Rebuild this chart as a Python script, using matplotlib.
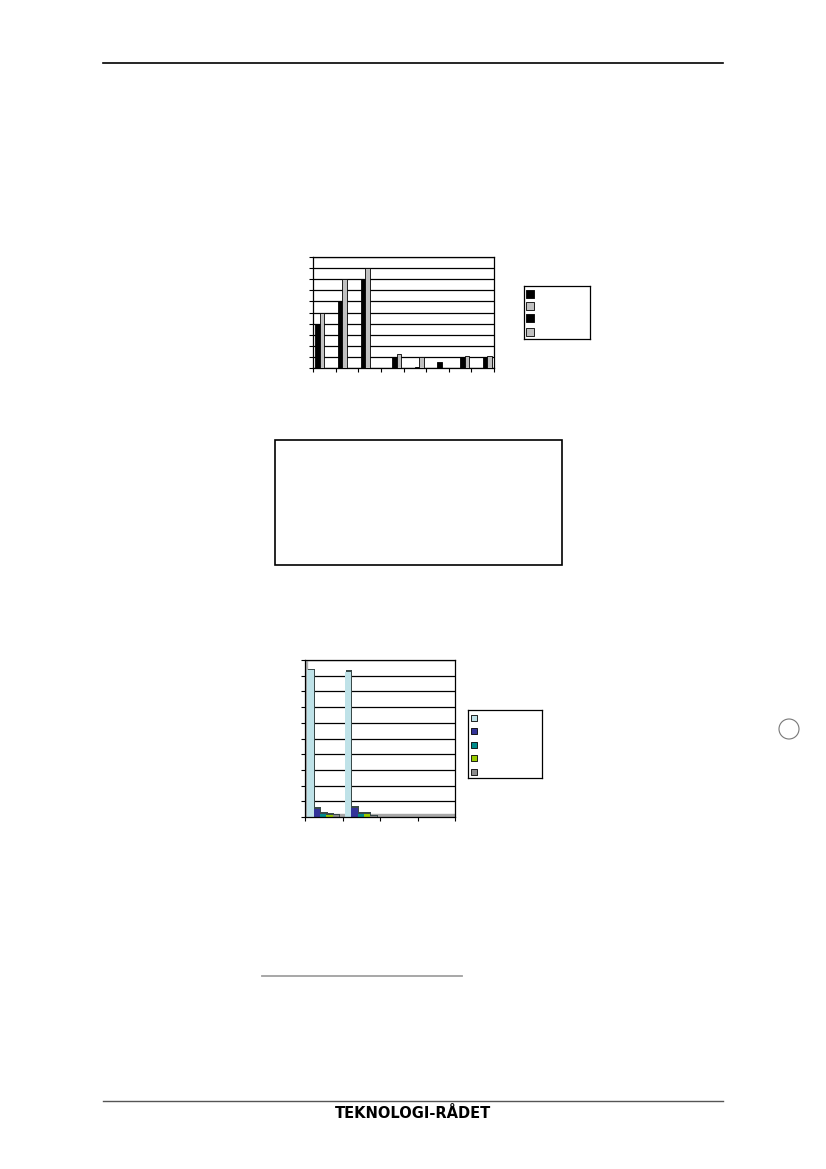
import matplotlib
matplotlib.use('Agg')
import matplotlib.pyplot as plt
import numpy as np

W, H = 826, 1169

# chart 1: 8 categories, 4 series (values in gridline units)
cats1 = ['', '', '', '', '', '', '', '']
ser1_a = [4.0, 6.0, 8.0, 0, 0, 0, 0, 0]
ser1_b = [5.0, 8.0, 9.0, 0, 0, 0, 0, 0]
ser1_c = [0, 0, 0, 1.0, 0.1, 0.5, 1.0, 1.0]
ser1_d = [0, 0, 0, 1.3, 1.0, 0, 1.05, 1.05]
colors1 = ['#000000', '#c0c0c0', '#000000', '#c0c0c0']

# chart 2: 4 categories, 5 series
cats2 = ['', '', '', '']
ser2_a = [9.34, 9.24, 0, 0]
ser2_b = [0.51, 0.57, 0, 0]
ser2_c = [0.2, 0.2, 0, 0]
ser2_d = [0.15, 0.2, 0, 0]
ser2_e = [0.1, 0.05, 0, 0]
colors2 = ['#bfe2e8', '#333399', '#008b8b', '#99cc00', '#8c8c8c']

footer = 'TEKNOLOGI-RÅDET'


def box(l, t, r, b):
    return [l / W, 1 - b / H, (r - l) / W, (b - t) / H]


fig = plt.figure(figsize=(W / 100, H / 100), dpi=100)

# page decorations
page = fig.add_axes([0, 0, 1, 1])
page.set_xlim(0, W)
page.set_ylim(H, 0)
page.axis('off')
page.plot([103, 723], [63, 63], color='black', lw=1.2)
page.plot([103, 723], [1101, 1101], color='#555555', lw=1.0)
page.plot([262, 462], [976, 976], color='#a0a0a0', lw=1.3)
page.add_patch(plt.Rectangle((274.5, 439.5), 287, 125, fill=False, ec='black', lw=1.2))
page.add_patch(plt.Circle((789, 729), 10, fill=False, ec='#777777', lw=0.8))
page.text(413, 1113.5, footer, ha='center', va='center', fontsize=10.5,
          fontweight='heavy', family='DejaVu Sans')

# ---- chart 1 ----
ax1 = fig.add_axes(box(313, 257, 494, 368))
x1 = np.arange(len(cats1))
for i, (vals, c) in enumerate(zip([ser1_a, ser1_b, ser1_c, ser1_d], colors1)):
    ax1.bar(x1 + 0.1 + 0.2 * i, vals, width=0.2, align='edge', color=c,
            edgecolor='black', linewidth=0.6, zorder=3)
ax1.set_xlim(0, len(cats1))
ax1.set_ylim(0, 10)
ax1.set_yticks(range(0, 11))
ax1.set_xticks(range(0, len(cats1) + 1))
ax1.yaxis.grid(True, color='black', lw=0.9, zorder=0)
ax1.tick_params(length=3, width=0.8, labelleft=False, labelbottom=False)
for s in ax1.spines.values():
    s.set_color('black')
    s.set_linewidth(0.9)

# legend 1
lg1 = fig.add_axes(box(524, 286, 590, 339))
lg1.set_xlim(0, 66)
lg1.set_ylim(53, 0)
lg1.set_xticks([])
lg1.set_yticks([])
for yy, c in zip([8, 20, 32, 46], colors1):
    lg1.scatter([6], [yy], marker='s', s=30, color=c, edgecolors='black', linewidths=0.6)
for s in lg1.spines.values():
    s.set_linewidth(0.9)

# ---- chart 2 ----
ax2 = fig.add_axes(box(305, 660, 455, 817))
x2 = np.arange(len(cats2))
ax2.axhspan(0.05, 0.22, color='#a8a8a8', zorder=1)
ax2.axvspan(0, 0.05, color='#b0b0b0', zorder=1)
for i, (vals, c) in enumerate(zip([ser2_a, ser2_b, ser2_c, ser2_d, ser2_e], colors2)):
    v = np.array(vals)
    xs = x2 + 0.06 + 0.17 * i
    mask = v > 0
    # dark side / top for pseudo 3d look
    ax2.bar(xs[mask] + 0.03, v[mask] + 0.1, width=0.17, align='edge',
            color='#3a4a4a', linewidth=0, zorder=2 + i * 0.1)
    ax2.bar(xs[mask], v[mask], width=0.17, align='edge', color=c,
            linewidth=0, zorder=2.05 + i * 0.1)
ax2.set_xlim(0, len(cats2))
ax2.set_ylim(0, 10)
ax2.set_yticks(range(0, 11))
ax2.set_xticks(range(0, len(cats2) + 1))
ax2.yaxis.grid(True, color='black', lw=0.9, zorder=0)
ax2.set_axisbelow(True)
ax2.tick_params(length=3, width=0.8, labelleft=False, labelbottom=False)
for s in ax2.spines.values():
    s.set_color('black')
    s.set_linewidth(0.9)

# legend 2
lg2 = fig.add_axes(box(468, 710, 542, 778))
lg2.set_xlim(0, 74)
lg2.set_ylim(68, 0)
lg2.set_xticks([])
lg2.set_yticks([])
for yy, c in zip([8, 21, 35, 48, 62], colors2):
    lg2.scatter([6], [yy], marker='s', s=18, color=c, edgecolors='black', linewidths=0.6)
for s in lg2.spines.values():
    s.set_linewidth(0.9)

fig.savefig('out.png', dpi=100)
